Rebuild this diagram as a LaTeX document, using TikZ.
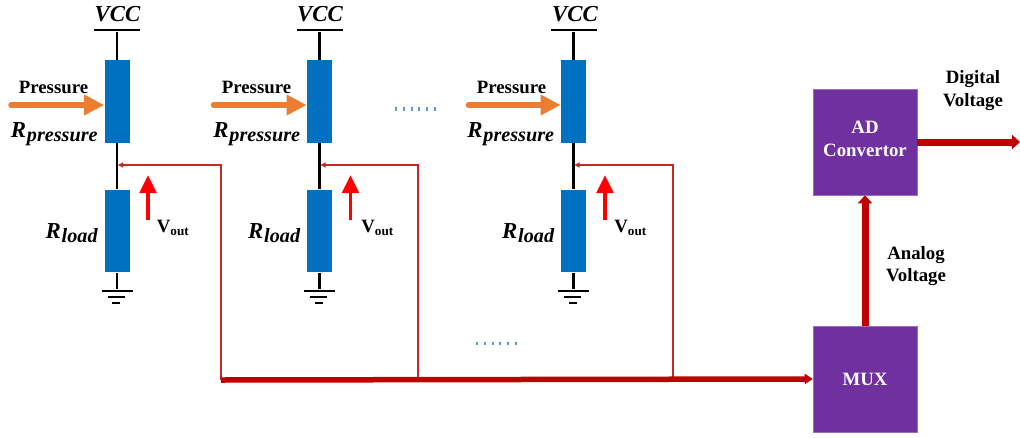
\documentclass[tikz,border=0pt]{standalone}
\usepackage{fontspec}
\setmainfont{Liberation Serif}
\usetikzlibrary{arrows.meta}
\newcommand{\rname}[1]{{\fontsize{13}{13}\selectfont\bfseries\itshape R\kern0.5pt\raisebox{-2.5pt}{\fontsize{11.5}{12}\selectfont #1}}}
\newcommand{\vout}{{\bfseries V\raisebox{-1.5pt}{\fontsize{7.5}{8}\selectfont out}}}

\begin{document}
\begin{tikzpicture}[
    resistor/.style={rectangle, fill=rblue, inner sep=0pt, minimum width=0.5cm, minimum height=1.65cm},
    block/.style={rectangle, fill=mpurple, draw=mpurple!70!white, line width=0.3pt, inner sep=0pt, minimum width=2.08cm, minimum height=2.12cm, align=center, text=white, font=\fontsize{10.7}{13}\selectfont\bfseries},
    rail/.style={rectangle, fill=black, inner sep=0pt, minimum height=0.05cm},
    label/.style={font=\fontsize{10.7}{13}\selectfont\bfseries, align=center, inner sep=0pt},
    lead/.style={draw=black, line width=0.045cm},
    press/.style={draw=porange, line width=0.11cm, line cap=round, -{Triangle[length=0.4cm,width=0.39cm]}},
    senseup/.style={draw=red, line width=0.075cm, -{Triangle[length=0.36cm,width=0.33cm]}},
    tap/.style={draw=dred!85!white, line width=0.022cm, -{Triangle[length=0.1cm,width=0.1cm]}},
    bus/.style={draw=dred, line width=0.11cm, -{Triangle[length=0.16cm,width=0.2cm]}},
    vbus/.style={draw=dred, line width=0.14cm, -{Triangle[length=0.16cm,width=0.28cm]}},
    dots/.style={draw=dblue, line width=0.07cm, dash pattern=on 0.04cm off 0.115cm}
]
    \definecolor{rblue}{HTML}{0070C0}
    \definecolor{mpurple}{HTML}{7030A0}
    \definecolor{porange}{HTML}{ED7D31}
    \definecolor{dred}{HTML}{C00000}
    \definecolor{dblue}{HTML}{5B9BD5}
    \useasboundingbox (0,0) rectangle (20.4,-8.74);

    % First divider
    \node[label, font=\fontsize{13}{13}\selectfont\bfseries\itshape] (vcctext1) at (2.35,-0.29) {VCC};
    \node[rail, minimum width=0.92cm] (vcc1) at (2.34,-0.6) {};
    \node[resistor] (rp1) at (2.34,-2.03) {};
    \node[resistor] (rl1) at (2.34,-4.62) {};
    \node[rail, minimum width=0.62cm] (gnd1) at (2.34,-5.82) {};
    \node[rail, minimum width=0.34cm] (gndb1) at (2.32,-5.94) {};
    \node[rail, minimum width=0.16cm] (gndc1) at (2.32,-6.06) {};
    \draw[lead] (vcc1) -- (rp1.north);
    \draw[lead] (rp1.south) -- (rl1.north);
    \draw[lead] (rl1.south) -- (gnd1);
    \node[label] (ptext1) at (1.07,-1.74) {Pressure};
    \coordinate (pstart1) at (0.22,-2.1);
    \draw[press] (pstart1) -- (pstart1 -| rp1.west);
    \node[label, anchor=east] (rptext1) at (1.96,-2.68) {\rname{pressure}};
    \node[label, anchor=east] (rltext1) at (1.96,-4.66) {\rname{load}};
    \coordinate (vbot1) at (2.96,-4.4);
    \coordinate (vtop1) at (2.96,-3.5);
    \draw[senseup] (vbot1) -- (vtop1);
    \node[label, anchor=west] (vtext1) at (3.13,-4.56) {\vout};

    % Second divider
    \node[label, font=\fontsize{13}{13}\selectfont\bfseries\itshape] (vcctext2) at (6.4,-0.29) {VCC};
    \node[rail, minimum width=0.92cm] (vcc2) at (6.39,-0.6) {};
    \node[resistor] (rp2) at (6.39,-2.03) {};
    \node[resistor] (rl2) at (6.39,-4.62) {};
    \node[rail, minimum width=0.62cm] (gnd2) at (6.39,-5.82) {};
    \node[rail, minimum width=0.34cm] (gndb2) at (6.37,-5.94) {};
    \node[rail, minimum width=0.16cm] (gndc2) at (6.37,-6.06) {};
    \draw[lead] (vcc2) -- (rp2.north);
    \draw[lead] (rp2.south) -- (rl2.north);
    \draw[lead] (rl2.south) -- (gnd2);
    \node[label] (ptext2) at (5.13,-1.74) {Pressure};
    \coordinate (pstart2) at (4.27,-2.1);
    \draw[press] (pstart2) -- (pstart2 -| rp2.west);
    \node[label, anchor=east] (rptext2) at (6.01,-2.68) {\rname{pressure}};
    \node[label, anchor=east] (rltext2) at (6.01,-4.66) {\rname{load}};
    \coordinate (vbot2) at (7.01,-4.4);
    \coordinate (vtop2) at (7.01,-3.5);
    \draw[senseup] (vbot2) -- (vtop2);
    \node[label, anchor=west] (vtext2) at (7.22,-4.56) {\vout};

    % Third divider
    \node[label, font=\fontsize{13}{13}\selectfont\bfseries\itshape] (vcctext3) at (11.5,-0.29) {VCC};
    \node[rail, minimum width=0.92cm] (vcc3) at (11.47,-0.6) {};
    \node[resistor] (rp3) at (11.47,-2.03) {};
    \node[resistor] (rl3) at (11.47,-4.62) {};
    \node[rail, minimum width=0.62cm] (gnd3) at (11.47,-5.82) {};
    \node[rail, minimum width=0.34cm] (gndb3) at (11.45,-5.94) {};
    \node[rail, minimum width=0.16cm] (gndc3) at (11.45,-6.06) {};
    \draw[lead] (vcc3) -- (rp3.north);
    \draw[lead] (rp3.south) -- (rl3.north);
    \draw[lead] (rl3.south) -- (gnd3);
    \node[label] (ptext3) at (10.23,-1.74) {Pressure};
    \coordinate (pstart3) at (9.37,-2.1);
    \draw[press] (pstart3) -- (pstart3 -| rp3.west);
    \node[label, anchor=east] (rptext3) at (11.09,-2.68) {\rname{pressure}};
    \node[label, anchor=east] (rltext3) at (11.09,-4.66) {\rname{load}};
    \coordinate (vbot3) at (12.1,-4.4);
    \coordinate (vtop3) at (12.1,-3.5);
    \draw[senseup] (vbot3) -- (vtop3);
    \node[label, anchor=west] (vtext3) at (12.28,-4.56) {\vout};

    % Blocks
    \node[block] (mux) at (17.3,-7.58) {MUX};
    \node[block] (adc) at (17.3,-2.84) {};
    \node[label, text=white] (adctext) at (17.3,-2.77) {AD\\Convertor};

    % Sense lines and bus
    \coordinate (tap1) at (2.36,-3.3);
    \coordinate (tap2) at (6.41,-3.3);
    \coordinate (tap3) at (11.49,-3.3);
    \coordinate (join1) at (4.42,-7.6);
    \coordinate (join2) at (8.36,-7.58);
    \coordinate (join3) at (13.46,-7.56);
    \draw[tap] (join1) |- (tap1);
    \draw[tap] (join2) |- (tap2);
    \draw[tap] (join3) |- (tap3);
    \draw[bus] (join1) -- (mux.west);

    % Converter connections
    \coordinate (out) at (20.4,-2.84);
    \draw[vbus] (mux.north) -- (adc.south);
    \draw[vbus] (adc.east) -- (out);

    \node[label] (analog) at (18.32,-5.32) {Analog\\Voltage};
    \node[label] (digital) at (19.46,-1.81) {Digital\\Voltage};

    % Dots
    \coordinate (dotsa) at (7.9,-2.18);
    \coordinate (dotsb) at (8.72,-2.18);
    \draw[dots] (dotsa) -- (dotsb);
    \coordinate (dotsc) at (9.52,-6.87);
    \coordinate (dotsd) at (10.34,-6.87);
    \draw[dots] (dotsc) -- (dotsd);
\end{tikzpicture}
\end{document}
